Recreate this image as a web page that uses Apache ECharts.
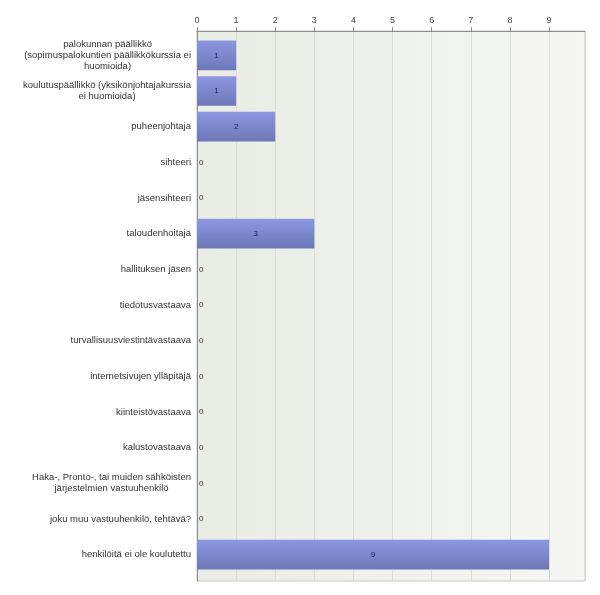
<!DOCTYPE html>
<html>
<head>
<meta charset="utf-8">
<script src="https://cdn.jsdelivr.net/npm/echarts@6/dist/echarts.min.js"></script>
<style>
html,body{margin:0;padding:0;background:#fff;}
#chart{width:600px;height:595px;}
</style>
</head>
<body>
<div id="chart"></div>
<script>
const categories = [
  'palokunnan päällikkö\n(sopimuspalokuntien päällikkökurssia ei\nhuomioida)',
  'koulutuspäällikkö (yksikönjohtajakurssia\nei huomioida)',
  'puheenjohtaja',
  'sihteeri',
  'jäsensihteeri',
  'taloudenhoitaja',
  'hallituksen jäsen',
  'tiedotusvastaava',
  'turvallisuusviestintävastaava',
  'internetsivujen ylläpitäjä',
  'kiinteistövastaava',
  'kalustovastaava',
  'Haka-, Pronto-, tai muiden sähköisten\njärjestelmien vastuuhenkilö',
  'joku muu vastuuhenkilö, tehtävä?',
  'henkilöitä ei ole koulutettu'
];
const values = [1, 1, 2, 0, 0, 3, 0, 0, 0, 0, 0, 0, 0, 0, 9];
const tickLabels = ['0','1','2','3','4','5','6','7','8','9'];
const axisMax = 9.92;

const chart = echarts.init(document.getElementById('chart'), null, {renderer: 'canvas'});
const font = '"Liberation Sans", Arial, sans-serif';

const barData = values.map(v => ({
  value: v,
  label: v > 0
    ? {position: 'inside', color: '#1c1f4a', fontSize: 8}
    : {position: 'right', distance: 2, color: '#333', fontSize: 8}
}));

chart.setOption({
  animation: false,
  backgroundColor: '#fff',
  grid: [
    {left: 197, top: 31, width: 388, height: 550, show: true,
     backgroundColor: new echarts.graphic.LinearGradient(0, 0, 1, 0, [
       {offset: 0, color: '#e9ece5'}, {offset: 1, color: '#f6f7f4'}]),
     borderColor: '#c9c9c9', borderWidth: 1},
    {left: 197, top: 37.5, width: 388, height: 535}
  ],
  xAxis: [
    {type: 'value', gridIndex: 0, position: 'top', min: 0, max: axisMax, interval: 1,
     axisLine: {show: true, onZero: false, lineStyle: {color: '#8c8c8c', width: 1}},
     axisTick: {show: true, length: 4, lineStyle: {color: '#8c8c8c'}},
     axisLabel: {show: true, showMaxLabel: false, color: '#444', fontSize: 9, fontFamily: font, margin: 6,
       formatter: v => tickLabels[Math.round(v)] !== undefined && Math.abs(v - Math.round(v)) < 1e-6 ? tickLabels[Math.round(v)] : ''},
     splitLine: {show: true, lineStyle: {color: '#d9dcd6', width: 1}}},
    {type: 'value', gridIndex: 1, min: 0, max: axisMax, show: false, splitLine: {show: false}}
  ],
  yAxis: [
    {type: 'value', gridIndex: 0, min: 0, max: 1,
     axisLine: {show: true, onZero: false, lineStyle: {color: '#8c8c8c', width: 1}},
     axisTick: {show: false}, axisLabel: {show: false}, splitLine: {show: false}},
    {type: 'category', gridIndex: 1, data: categories, inverse: true,
     axisLine: {show: false}, axisTick: {show: false},
     axisLabel: {show: true, color: '#333', fontSize: 9.5, fontFamily: font, margin: 6, lineHeight: 11,
       formatter: s => s.split('\n').map(l => '{c|' + l + '}').join('\n'),
       rich: {c: {align: 'center', color: '#333', fontSize: 9.5, fontFamily: font, lineHeight: 11}}}}
  ],
  series: [{
    type: 'bar', xAxisIndex: 1, yAxisIndex: 1,
    data: barData,
    barCategoryGap: '17%',
    itemStyle: {
      color: new echarts.graphic.LinearGradient(0, 0, 0, 1, [
        {offset: 0, color: '#8c97e1'}, {offset: 1, color: '#6d77b7'}])
    },
    label: {show: true, fontFamily: font}
  }]
});
</script>
</body>
</html>
